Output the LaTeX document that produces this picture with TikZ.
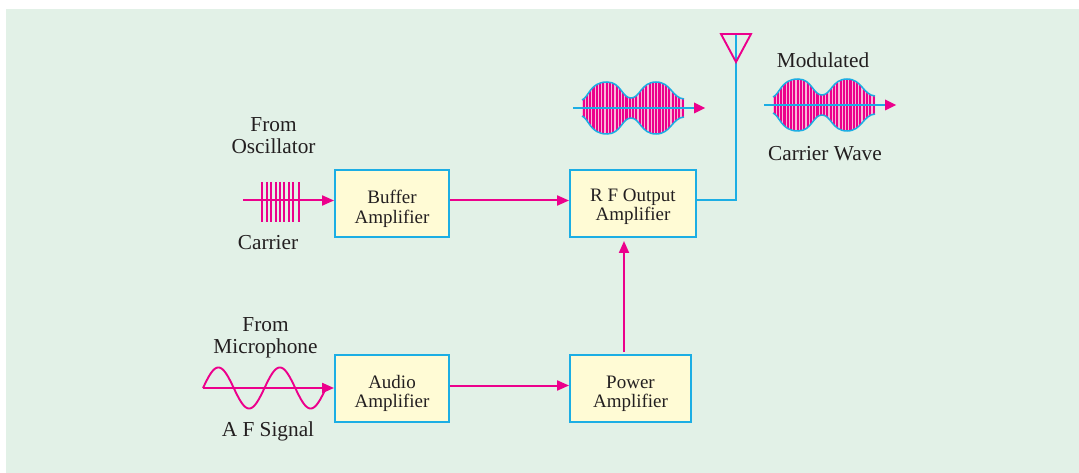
\documentclass[tikz,border=0pt]{standalone}
\usepackage{fontspec}
\setmainfont{Liberation Serif}
\usetikzlibrary{arrows.meta}
\definecolor{panel}{HTML}{E2F1E7}
\definecolor{boxfill}{HTML}{FFFBD5}
\definecolor{cyanline}{HTML}{1CAEE4}
\definecolor{mag}{HTML}{EC008C}
\definecolor{pinkbg}{HTML}{F9B8D8}
\definecolor{ink}{HTML}{231F20}
\tikzset{
  block/.style={draw=cyanline,fill=boxfill,line width=1.9pt,minimum height=67pt,inner sep=0pt,align=center,text=ink,font=\fontsize{19}{19.5}\selectfont},
  lab/.style={text=ink,align=center,inner sep=0pt,font=\fontsize{21.3}{22}\selectfont},
  tip/.style={-{Triangle[length=12pt,width=10pt]}},
  magline/.style={draw=mag,line width=2pt},
  cyline/.style={draw=cyanline,line width=2pt},
}
\newcommand{\boxt}[3]{\raisebox{-#3pt}[0pt][0pt]{\begin{tabular}{@{}c@{}}#1\\#2\end{tabular}}}
\newcommand{\burst}[2]{%
 \begin{scope}[shift={(#1,#2)}]
  \def\env{(582,100) .. controls (589,97) and (590,82) .. (607,82) .. controls (621,82) and (622,98) .. (631,98) .. controls (640,98) and (641,82) .. (656,82) .. controls (671,82) and (672,98) .. (684,99) -- (684,117) .. controls (672,118) and (671,134) .. (656,134) .. controls (641,134) and (640,118) .. (631,118) .. controls (622,118) and (621,134) .. (607,134) .. controls (590,134) and (589,119) .. (582,116) -- cycle}
  \fill[pinkbg] \env;
  \begin{scope}
   \clip \env;
   \foreach \i in {0,...,30}{\fill[mag] ({582.5+3.3*\i},78) rectangle ++(2.1,60);}
  \end{scope}
  \draw[cyanline,line width=1.5pt] (582,100) .. controls (589,97) and (590,82) .. (607,82) .. controls (621,82) and (622,98) .. (631,98) .. controls (640,98) and (641,82) .. (656,82) .. controls (671,82) and (672,98) .. (684,99);
  \draw[cyanline,line width=1.5pt] (684,117) .. controls (672,118) and (671,134) .. (656,134) .. controls (641,134) and (640,118) .. (631,118) .. controls (622,118) and (621,134) .. (607,134) .. controls (590,134) and (589,119) .. (582,116);
  \draw[cyanline,line width=2pt] (573,108) -- (695,108);
  \fill[mag] (694,102.5) -- (705,108) -- (694,113.5) -- cycle;
 \end{scope}}
\begin{document}
\begin{tikzpicture}[x=1pt,y=-1pt]
\useasboundingbox (0,0) rectangle (1079,473);
\fill[white] (0,0) rectangle (1079,473);
\fill[panel] (6,9) rectangle (1079,473);

\node[block,minimum width=114pt] (buffer) at (392,203.5) {\boxt{Buffer}{Amplifier}{10.5}};
\node[block,minimum width=126pt] (rf) at (633,203.5) {\boxt{R F Output}{Amplifier}{8}};
\node[block,minimum width=114pt] (audio) at (392,388.5) {\boxt{Audio}{Amplifier}{10}};
\node[block,minimum width=121pt] (power) at (630.5,388.5) {\boxt{Power}{Amplifier}{10}};

\coordinate (carrierstart) at (243,200.5);
\coordinate (afstart) at (203,388);
\coordinate (ant) at (736,62);

\foreach \x in {262,266.7,271,275.7,280,284.3,289,293.3,298.7}{\draw[mag,line width=1.7pt] (\x,182) -- (\x,222);}
\draw[mag,line width=1.9pt,domain=203:327,samples=120,smooth] plot (\x,{388-20.5*sin((\x-203)/61.5*360)});

\draw[magline,tip] (carrierstart) -- (buffer.west |- carrierstart);
\draw[magline,tip] (afstart) -- (audio.west |- afstart);
\draw[magline,tip] (buffer.east |- 0,200.5) -- (rf.west |- 0,200.5);
\draw[magline,tip] (audio.east |- 0,385.5) -- (power.west |- 0,385.5);
\draw[magline,tip] (624,352) -- (624,241);

\draw[cyline] (rf.east |- 0,200.5) -- (736,200.5) -- (ant) -- (736,34);
\draw[mag,line width=1.9pt] (721,34) -- (751,34) -- (ant) -- cycle;

\burst{0}{0}
\burst{191}{-3}

\node[lab] (t1) at (273.5,136) {From\\Oscillator};
\node[lab] (t2) at (268,243) {Carrier};
\node[lab] (t3) at (265.5,338) {From\\Microphone};
\node[lab] (t4) at (268,431) {A F Signal};
\node[lab] (t5) at (823,60) {Modulated};
\node[lab] (t6) at (825,154) {Carrier Wave};
\end{tikzpicture}
\end{document}
